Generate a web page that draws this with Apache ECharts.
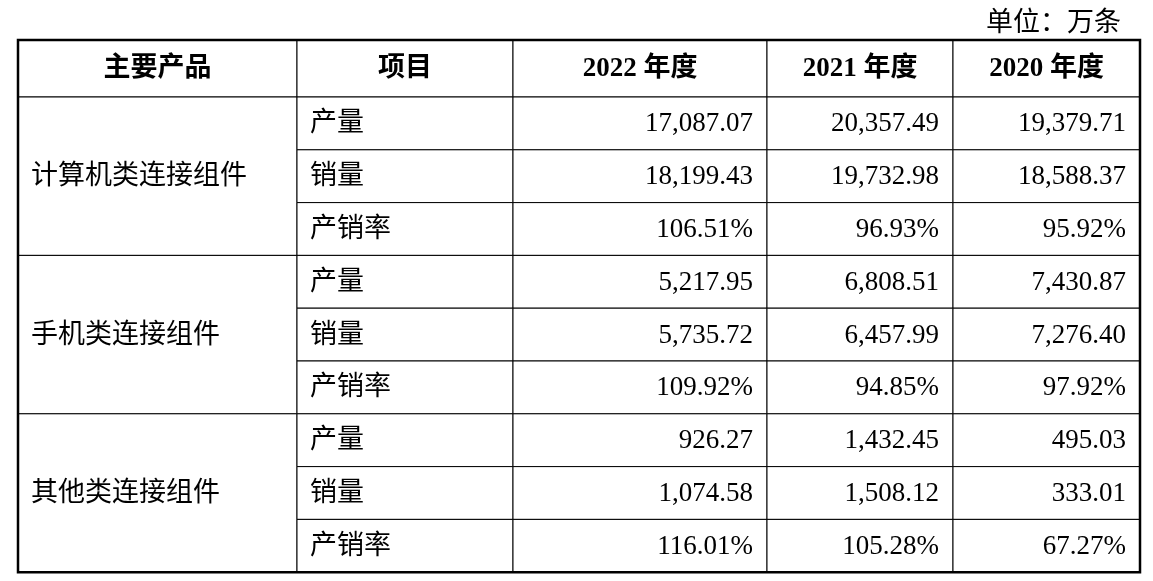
<!DOCTYPE html><html><head><meta charset="utf-8">
<script src="https://cdn.jsdelivr.net/npm/echarts@6/dist/echarts.min.js"></script>
<style>html,body{margin:0;background:#fff}#c{width:1153px;height:581px}</style></head><body><div id="c"></div>
<script>
const headers=['主要产品','项目','2022 年度','2021 年度','2020 年度'];
const products=['计算机类连接组件','手机类连接组件','其他类连接组件'];
const items=['产量','销量','产销率'];
const y2022=['17,087.07','18,199.43','106.51%','5,217.95','5,735.72','109.92%','926.27','1,074.58','116.01%'];
const y2021=['20,357.49','19,732.98','96.93%','6,808.51','6,457.99','94.85%','1,432.45','1,508.12','105.28%'];
const y2020=['19,379.71','18,588.37','95.92%','7,430.87','7,276.40','97.92%','495.03','333.01','67.27%'];
const unitText='单位：万条';
// layout
const colEdges=[0,279,495,749,935,1122];
const headH=57, rowH=52.8;
function rowEdge(r){return r===0?0:headH+(r-1)*rowH;}
const cells=[];
headers.forEach((h,i)=>cells.push([i,0,1,h,'center',1]));
products.forEach((p,g)=>{
  cells.push([0,1+g*3,3,p,'left',0]);
  items.forEach((it,k)=>{
    const r=1+g*3+k, idx=g*3+k;
    cells.push([1,r,1,it,'left',0]);
    cells.push([2,r,1,y2022[idx],'right',0]);
    cells.push([3,r,1,y2021[idx],'right',0]);
    cells.push([4,r,1,y2020[idx],'right',0]);
  });
});
const ff='"Liberation Serif","Noto Sans CJK SC",serif';
const chart=echarts.init(document.getElementById('c'));
chart.setOption({
  animation:false,
  title:{text:unitText,right:27,top:5,textStyle:{fontFamily:ff,fontSize:27,fontWeight:'normal',color:'#000'}},
  grid:{left:18,top:40,width:1122,height:rowEdge(10)},
  xAxis:{type:'value',min:0,max:1122,show:false},
  yAxis:{type:'value',min:0,max:rowEdge(10),inverse:true,show:false},
  series:[{type:'custom',data:cells,renderItem:(params,api)=>{
    const d=cells[params.dataIndex];
    const c=d[0],r=d[1],span=d[2];
    const p0=api.coord([colEdges[c],rowEdge(r)]);
    const p1=api.coord([colEdges[c+1],rowEdge(r+span)]);
    const tx=d[4]==='center'?(p0[0]+p1[0])/2:d[4]==='left'?p0[0]+13:p1[0]-14;
    return {type:'group',children:[
      {type:'rect',shape:{x:p0[0],y:p0[1],width:p1[0]-p0[0],height:p1[1]-p0[1]},style:{fill:'#fff',stroke:'#000',lineWidth:1}},
      {type:'text',style:{x:tx,y:(p0[1]+p1[1])/2+1,text:d[3],align:d[4],verticalAlign:'middle',fill:'#000',font:(d[5]?'bold 27px ':'27px ')+ff}}
    ]};
  }}],
  graphic:[{type:'rect',shape:{x:18,y:40,width:1122,height:rowEdge(10)},style:{fill:'none',stroke:'#000',lineWidth:2.5},z:100}]
});
</script></body></html>
